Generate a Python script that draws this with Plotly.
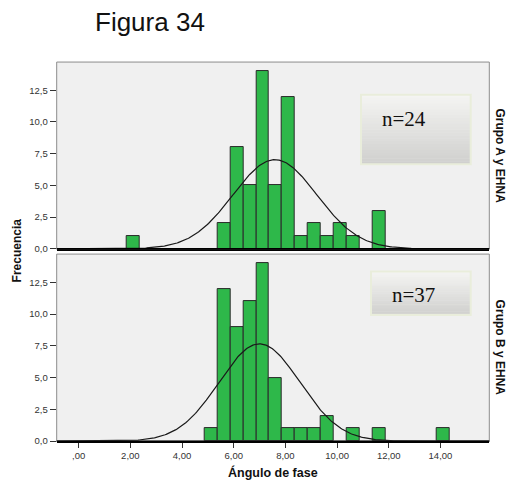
import numpy as np
import plotly.graph_objects as go

W, H = 530, 491

# ---------------- data ----------------
bin_width = 0.5
top_centers = [2.12, 5.62, 6.12, 6.62, 7.12, 7.62, 8.12, 8.62, 9.12, 9.62, 10.12, 10.62, 11.62]
top_counts = [1, 2, 8, 5, 14, 5, 12, 1, 2, 1, 2, 1, 3]
bottom_centers = [5.12, 5.62, 6.12, 6.62, 7.12, 7.62, 8.12, 8.62, 9.12, 9.62, 10.62, 11.62, 14.12]
bottom_counts = [1, 12, 9, 11, 14, 5, 1, 1, 1, 2, 1, 1, 1]

group_labels = ["Grupo A y EHNA", "Grupo B y EHNA"]
n_labels = ["n=24", "n=37"]

x_tickvals = [0, 2, 4, 6, 8, 10, 12, 14]
x_ticktext = [",00", "2,00", "4,00", "6,00", "8,00", "10,00", "12,00", "14,00"]
y_tickvals = [0, 2.5, 5, 7.5, 10, 12.5]
y_ticktext = ["0,0", "2,5", "5,0", "7,5", "10,0", "12,5"]

x_range = [-0.85, 15.89]
y_range = [0, 14.72]

# ---------------- helpers ----------------
def px_x(p):
    return p / W

def px_y(p):
    return 1 - p / H

GREEN = "#2eb84a"

fig = go.Figure()

def normal_curve(centers, counts):
    c = np.array(centers, dtype=float)
    n = np.array(counts, dtype=float)
    N = n.sum()
    mu = (c * n).sum() / N
    sd = np.sqrt(((c - mu) ** 2 * n).sum() / (N - 1))
    xs = np.linspace(x_range[0], x_range[1], 400)
    ys = N * bin_width * np.exp(-0.5 * ((xs - mu) / sd) ** 2) / (sd * np.sqrt(2 * np.pi))
    return xs, ys

for i, (cen, cnt) in enumerate([(top_centers, top_counts), (bottom_centers, bottom_counts)]):
    xa = "x" if i == 0 else "x2"
    ya = "y" if i == 0 else "y2"
    fig.add_trace(go.Bar(x=cen, y=cnt, width=bin_width, xaxis=xa, yaxis=ya,
                         marker=dict(color=GREEN, line=dict(color="#2a2a2a", width=1)),
                         showlegend=False, hoverinfo="skip"))
    xs, ys = normal_curve(cen, cnt)
    fig.add_trace(go.Scatter(x=xs, y=ys, mode="lines", xaxis=xa, yaxis=ya,
                             line=dict(color="#1a1a1a", width=1.2),
                             showlegend=False, hoverinfo="skip"))

# panel geometry (pixels)
left, right = 56.7, 489.3
top_panel = (62.7, 251.3)
bot_panel = (256.7, 445.7)

axis_common = dict(range=x_range, tickvals=x_tickvals, ticktext=x_ticktext,
                   showgrid=False, zeroline=False, showline=True, linecolor="#000000",
                   linewidth=1.5, ticks="outside", ticklen=5, tickcolor="#333333",
                   tickfont=dict(family="Arial, Liberation Sans, sans-serif", size=9.5, color="#333333"))
yaxis_common = dict(range=y_range, tickvals=y_tickvals, ticktext=y_ticktext,
                    showgrid=False, zeroline=False, showline=False,
                    ticks="outside", ticklen=6, tickcolor="#333333",
                    tickfont=dict(family="Arial, Liberation Sans, sans-serif", size=9.5, color="#333333"))

fig.update_layout(
    width=W, height=H,
    margin=dict(l=0, r=0, t=0, b=0),
    paper_bgcolor="white",
    plot_bgcolor="#f0f0f0",
    bargap=0,
    xaxis=dict(domain=[px_x(left), px_x(right)], anchor="y", showticklabels=False,
               **{k: v for k, v in axis_common.items() if k not in ("ticks",)}, ticks=""),
    yaxis=dict(domain=[px_y(top_panel[1]), px_y(top_panel[0])], anchor="x", **yaxis_common),
    xaxis2=dict(domain=[px_x(left), px_x(right)], anchor="y2", **axis_common),
    yaxis2=dict(domain=[px_y(bot_panel[1]), px_y(bot_panel[0])], anchor="x2", **yaxis_common),
)

shapes = []
# panel borders
for (t, b) in [top_panel, bot_panel]:
    shapes.append(dict(type="rect", xref="paper", yref="paper",
                       x0=px_x(left), x1=px_x(right), y0=px_y(b), y1=px_y(t),
                       line=dict(color="#8c8c8c", width=1), fillcolor="rgba(0,0,0,0)", layer="above"))
    shapes.append(dict(type="line", xref="paper", yref="paper",
                       x0=px_x(left), x1=px_x(right), y0=px_y(b), y1=px_y(b),
                       line=dict(color="#000000", width=1.5), layer="above"))

# gradient boxes with "n=" labels
boxes = [(361, 470.7, 95.7, 166.0), (371, 470.7, 274.3, 318.3)]
steps = 24
for (x0, x1, y0, y1) in boxes:
    h = (y1 - y0) / steps
    for s in range(steps):
        f = s / (steps - 1)
        g = int(round(244 - f * (244 - 208)))
        col = f"rgb({g},{g},{g - 2})"
        shapes.append(dict(type="rect", xref="paper", yref="paper",
                           x0=px_x(x0), x1=px_x(x1), y0=px_y(y0 + (s + 1) * h + 0.3), y1=px_y(y0 + s * h),
                           line=dict(width=0), fillcolor=col, layer="above"))
    shapes.append(dict(type="rect", xref="paper", yref="paper",
                       x0=px_x(x0), x1=px_x(x1), y0=px_y(y1), y1=px_y(y0),
                       line=dict(color="#e9eddb", width=2), fillcolor="rgba(0,0,0,0)", layer="above"))
fig.update_layout(shapes=shapes)

ann = []
ann.append(dict(text="Figura 34", xref="paper", yref="paper", x=px_x(93), y=px_y(22),
                xanchor="left", yanchor="middle", showarrow=False,
                font=dict(family="Arial, Liberation Sans, sans-serif", size=26, color="#111111")))
ann.append(dict(text="<b>Frecuencia</b>", xref="paper", yref="paper", x=px_x(17), y=px_y(253),
                xanchor="center", yanchor="middle", textangle=-90, showarrow=False,
                font=dict(family="Arial, Liberation Sans, sans-serif", size=12, color="#111111")))
ann.append(dict(text="<b>Ángulo de fase</b>", xref="paper", yref="paper", x=px_x(273), y=px_y(477),
                xanchor="center", yanchor="middle", showarrow=False,
                font=dict(family="Arial, Liberation Sans, sans-serif", size=12.5, color="#111111")))
for lbl, (t, b) in zip(group_labels, [top_panel, bot_panel]):
    ann.append(dict(text=f"<b>{lbl}</b>", xref="paper", yref="paper", x=px_x(500), y=px_y((t + b) / 2),
                    xanchor="center", yanchor="middle", textangle=90, showarrow=False,
                    font=dict(family="Arial, Liberation Sans, sans-serif", size=12, color="#111111")))
for lbl, (cx, cy) in zip(n_labels, [(403.5, 120.7), (413.3, 298.3)]):
    ann.append(dict(text=lbl, xref="paper", yref="paper", x=px_x(cx), y=px_y(cy),
                    xanchor="center", yanchor="middle", showarrow=False,
                    font=dict(family="Liberation Serif, Times New Roman, serif", size=21, color="#111111")))
fig.update_layout(annotations=ann)

fig.write_html("out.html")
